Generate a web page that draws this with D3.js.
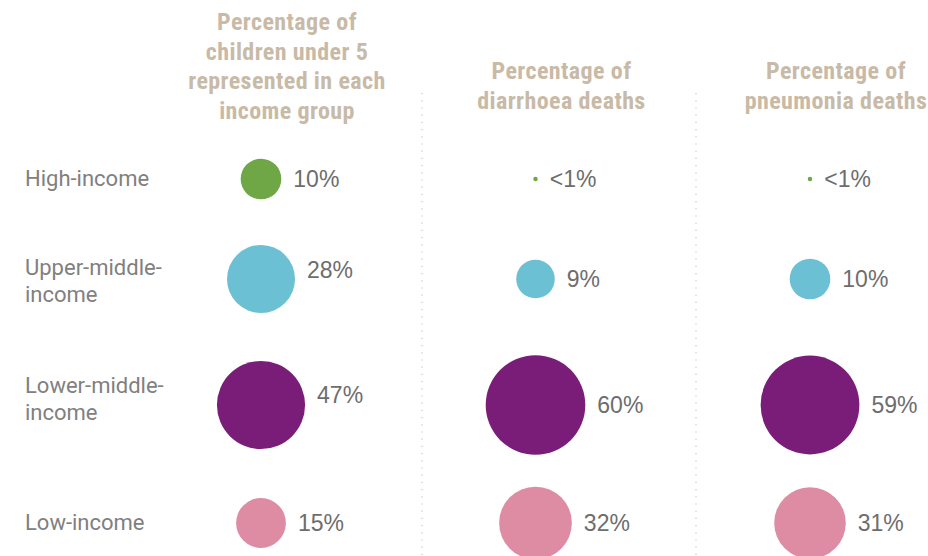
<!DOCTYPE html>
<html>
<head>
<meta charset="utf-8">
<script src="https://cdn.jsdelivr.net/npm/d3@7"></script>
<style>
  html, body { margin: 0; padding: 0; background: #fff; }
  svg { display: block; }
  .head { font-family: "Liberation Sans Narrow", "Roboto Condensed", "DejaVu Sans Condensed", sans-serif; font-weight: bold; fill: #c8baa6; font-size: 24px; letter-spacing: 0.4px; }
  .rowlab { font-family: Roboto, "Liberation Sans", sans-serif; fill: #808080; font-size: 22px; }
  .val { font-family: "Liberation Sans", Roboto, sans-serif; fill: #6d6d6d; font-size: 23px; }
</style>
</head>
<body>
<svg id="chart"></svg>
<script>
// income groups (rows)
const groups = ["High-income", "Upper-middle-income", "Lower-middle-income", "Low-income"];
const groupLines = [["High-income"], ["Upper-middle-", "income"], ["Lower-middle-", "income"], ["Low-income"]];
const groupColors = ["#6fa746", "#6bc0d3", "#7a1d79", "#de8ba4"];

// columns
const columns = ["children", "diarrhoea", "pneumonia"];
const columnTitles = [
  ["Percentage of", "children under 5", "represented in each", "income group"],
  ["Percentage of", "diarrhoea deaths"],
  ["Percentage of", "pneumonia deaths"]
];

// values (percent); "<1%" drawn with a tiny value
const childrenValues = [10, 28, 47, 15];
const diarrhoeaValues = [0.12, 9, 60, 32];
const pneumoniaValues = [0.12, 10, 59, 31];
const childrenLabels = ["10%", "28%", "47%", "15%"];
const diarrhoeaLabels = ["<1%", "9%", "60%", "32%"];
const pneumoniaLabels = ["<1%", "10%", "59%", "31%"];

const W = 928, H = 556;
const svg = d3.select('#chart').attr('width', W).attr('height', H);

let x = d3.scalePoint().domain(columns).range([261, 810]);
let y = d3.scaleOrdinal().domain(groups).range([179, 279, 405, 523]);
let r = d3.scaleSqrt().domain([0, 60]).range([0, 49.8]);
let color = d3.scaleOrdinal().domain(groups).range(groupColors);

// dotted separators between the columns
let sepX = [422, 696];
svg.selectAll('line.sep')
  .data(sepX)
  .enter()
  .append('line')
  .attr('class', 'sep')
  .attr('x1', d => d).attr('x2', d => d)
  .attr('y1', 93).attr('y2', H)
  .attr('stroke', '#c9c4ba')
  .attr('stroke-width', 1.2)
  .attr('stroke-dasharray', '1.2 6');

// column headers
let lineH = 29.5;
let heads = svg.selectAll('text.head')
  .data(columns)
  .enter()
  .append('text')
  .attr('class', 'head')
  .attr('text-anchor', 'middle')
  .attr('y', (d, i) => i == 0 ? 30 : 79);
heads.selectAll('tspan')
  .data((d, i) => columnTitles[i].map(t => ({t: t, col: d})))
  .enter()
  .append('tspan')
  .attr('x', d => x(d.col) + 26)
  .attr('dy', (d, i) => i == 0 ? 0 : lineH)
  .text(d => d.t);

// row labels (two-line ones are nudged a little by hand)
let rowNudge = {"Upper-middle-income": 9, "Lower-middle-income": 1};
let rows = svg.selectAll('text.rowlab')
  .data(groups)
  .enter()
  .append('text')
  .attr('class', 'rowlab')
  .attr('y', (d, i) => y(d) + 7 - (groupLines[i].length - 1) * 20 + (rowNudge[d] || 0));
rows.selectAll('tspan')
  .data((d, i) => groupLines[i])
  .enter()
  .append('tspan')
  .attr('x', 25)
  .attr('dy', (d, i) => i == 0 ? 0 : 27)
  .text(d => d);

// bubbles + value labels
let allValues = [childrenValues, diarrhoeaValues, pneumoniaValues];
let allLabels = [childrenLabels, diarrhoeaLabels, pneumoniaLabels];
let points = [];
columns.forEach((c, ci) => {
  groups.forEach((g, gi) => {
    points.push({col: c, group: g, value: allValues[ci][gi], label: allLabels[ci][gi]});
  });
});

// in the first column the labels of the two big bubbles sit a bit higher
let lift = {"children|Upper-middle-income": -9, "children|Lower-middle-income": -10};

svg.selectAll('circle.bubble')
  .data(points)
  .enter()
  .append('circle')
  .attr('class', 'bubble')
  .attr('cx', d => x(d.col))
  .attr('cy', d => y(d.group))
  .attr('r', d => r(d.value))
  .style('fill', d => color(d.group));

svg.selectAll('text.val')
  .data(points)
  .enter()
  .append('text')
  .attr('class', 'val')
  .attr('x', d => x(d.col) + r(d.value) + 12)
  .attr('y', d => y(d.group) + 8 + (lift[d.col + '|' + d.group] || 0))
  .text(d => d.label);
</script>
</body>
</html>
